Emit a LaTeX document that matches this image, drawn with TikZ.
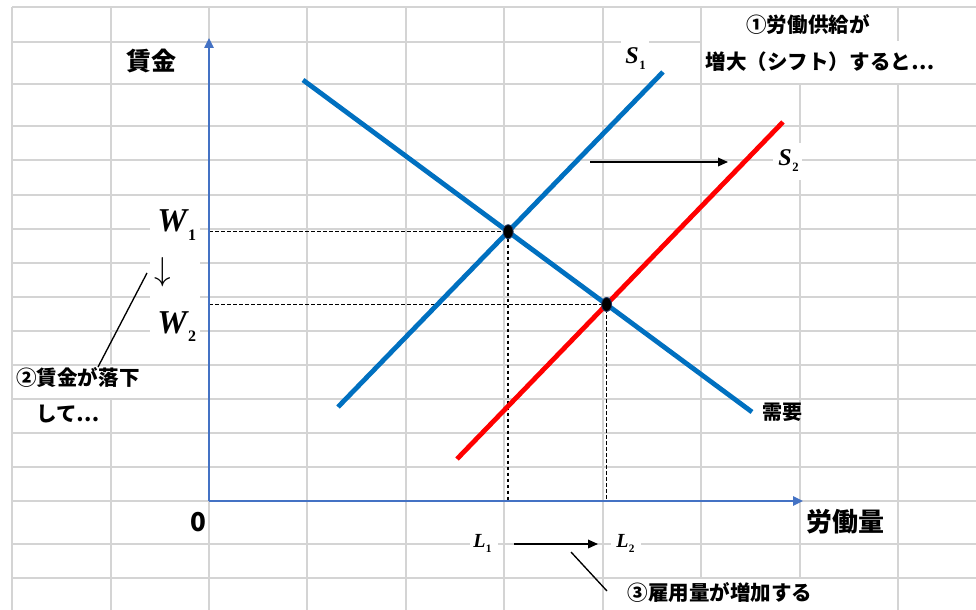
\documentclass[tikz,border=0pt]{standalone}
\usepackage{fontspec}
\newfontfamily\jp{Noto Sans CJK JP}
\newfontfamily\tmsbi{Liberation Serif Bold Italic}
\newfontfamily\tmsb{Liberation Serif Bold}
\usetikzlibrary{arrows.meta,shapes.geometric}
\definecolor{gridgray}{HTML}{D4D4D4}
\definecolor{axisblue}{HTML}{4472C4}
\definecolor{curveblue}{HTML}{0070C0}
\definecolor{curvered}{HTML}{FF0000}
\definecolor{dotedge}{HTML}{203864}
\tikzset{
  gridline/.style={draw=gridgray, line width=0.9pt},
  patch/.style={fill=white, draw=none},
  axisline/.style={draw=axisblue, line width=1.1pt, -{Triangle[length=7.5pt,width=7pt]}},
  curve/.style={line width=3.6pt},
  dashline/.style={draw=black, line width=1.05pt, dash pattern=on 2.8pt off 1.7pt},
  shiftarrow/.style={draw=black, line width=1pt, -{Triangle[length=7.5pt,width=6.5pt]}},
  callout/.style={draw=black, line width=1pt},
  eqdot/.style={ellipse, fill=black, draw=dotedge, line width=0.6pt, minimum width=7.5pt, minimum height=10.5pt, inner sep=0pt},
  jplabel/.style={font=\jp\bfseries\fontsize{15.4}{18}\selectfont, inner sep=0pt},
  mathlabel/.style={inner sep=0pt, anchor=base west}
}
\begin{document}
\begin{tikzpicture}[x=0.75pt,y=-0.75pt]
\useasboundingbox (0,0) rectangle (976,610);
\fill[white] (0,0) rectangle (976,610);
% grid
\foreach \gx in {12,111,209,307,406,504,603,701,800,898}
  \draw[gridline] (\gx,7) -- (\gx,610);
\foreach \gy in {7,42,84,126,160,195,229,263,297,331,365,399,433,467,501,544,578}
  \draw[gridline] (12,\gy) -- (976,\gy);
% white text-box patches
\fill[patch] (111.5,42.6) rectangle (200,83.4);
\fill[patch] (150,203) rectangle (200,343);
\fill[patch] (14,365.6) rectangle (145,398.4);
\fill[patch] (621,36) rectangle (649,78);
\fill[patch] (702,7.6) rectangle (897,41.4);
\fill[patch] (702,41.4) rectangle (976,83.4);
\fill[patch] (773,143) rectangle (801.5,180);
\fill[patch] (470,530) rectangle (498,560);
\fill[patch] (611,530) rectangle (641,560);
\fill[patch] (615,578.6) rectangle (897.4,610);
% coordinates
\coordinate (O) at (209,501);
\coordinate (ytip) at (209,38);
\coordinate (xtip) at (803,501);
\coordinate (Da) at (303,80);
\coordinate (Db) at (752,412);
\coordinate (S1a) at (338,407);
\coordinate (S1b) at (663,72);
\coordinate (S2a) at (457,459);
\coordinate (S2b) at (783,122);
\coordinate (E1) at (intersection of Da--Db and S1a--S1b);
\coordinate (E2) at (intersection of Da--Db and S2a--S2b);
% dashed guides
\draw[dashline] (E1 -| O) -- (E1) -- (E1 |- O);
\draw[dashline] (E2 -| O) -- (E2) -- (E2 |- O);
% axes
\draw[axisline] (O) -- (ytip);
\draw[axisline] (O) -- (xtip);
% curves
\draw[curve, curveblue] (Da) -- (Db);
\draw[curve, curveblue] (S1a) -- (S1b);
\draw[curve, curvered] (S2a) -- (S2b);
% equilibrium dots
\node[eqdot] (e1) at (E1) {};
\node[eqdot] (e2) at (E2) {};
% shift arrows
\coordinate (sh1) at (590,162);
\coordinate (sh2) at (728,162);
\draw[shiftarrow] (sh1) -- (sh2);
\coordinate (la) at (514,544);
\coordinate (lb) at (598,544);
\draw[shiftarrow] (la) -- (lb);
% labels
\node[font=\jp\bfseries\fontsize{18.75}{20}\selectfont, inner sep=0pt] (wage) at (151,61) {賃金};
\node[font=\jp\bfseries\fontsize{19.5}{22}\selectfont, inner sep=0pt] (labor) at (845,522) {労働量};
\node[font=\jp\bfseries\fontsize{19.5}{22}\selectfont, inner sep=0pt] (zero) at (198,522) {0};
\node[jplabel, font=\jp\bfseries\fontsize{15}{18}\selectfont] (demand) at (782,412) {需要};
\node[jplabel] (t1a) at (808,25) {①労働供給が};
\node[jplabel] (t1b) at (820,62) {増大（シフト）すると⋯};
\node[jplabel] (t2a) at (78,378) {②賃金が落下};
\node[jplabel] (t2b) at (68,414) {して⋯};
\node[jplabel] (t3) at (720,593) {③雇用量が増加する};
\node[mathlabel] (w1) at (157,232) {\tmsbi\fontsize{25}{25}\selectfont W\kern1pt\raisebox{-6pt}{\tmsb\fontsize{12}{12}\selectfont 1}};
\node[mathlabel] (w2) at (157,333) {\tmsbi\fontsize{25}{25}\selectfont W\kern1pt\raisebox{-6pt}{\tmsb\fontsize{12}{12}\selectfont 2}};
\node[inner sep=0pt] (down) at (163,272) {\fontsize{30}{30}\selectfont$\downarrow$};
\node[mathlabel] (s1) at (625,64) {\tmsbi\fontsize{18}{18}\selectfont S\kern0.5pt\raisebox{-4.5pt}{\tmsb\fontsize{9.5}{9.5}\selectfont 1}};
\node[mathlabel] (s2) at (778,166) {\tmsbi\fontsize{18}{18}\selectfont S\kern0.5pt\raisebox{-4.5pt}{\tmsb\fontsize{9.5}{9.5}\selectfont 2}};
\node[mathlabel] (l1) at (473,547) {\tmsbi\fontsize{15}{15}\selectfont L\kern0.3pt\raisebox{-3.75pt}{\tmsb\fontsize{8.5}{8.5}\selectfont 1}};
\node[mathlabel] (l2) at (616,547) {\tmsbi\fontsize{15}{15}\selectfont L\kern0.3pt\raisebox{-3.75pt}{\tmsb\fontsize{8.5}{8.5}\selectfont 2}};
% callout lines
\coordinate (c2a) at (147,273);
\coordinate (c2b) at (98,367);
\draw[callout] (c2a) -- (c2b);
\coordinate (c3a) at (571,552);
\coordinate (c3b) at (607,591);
\draw[callout] (c3a) -- (c3b);
\end{tikzpicture}
\end{document}
